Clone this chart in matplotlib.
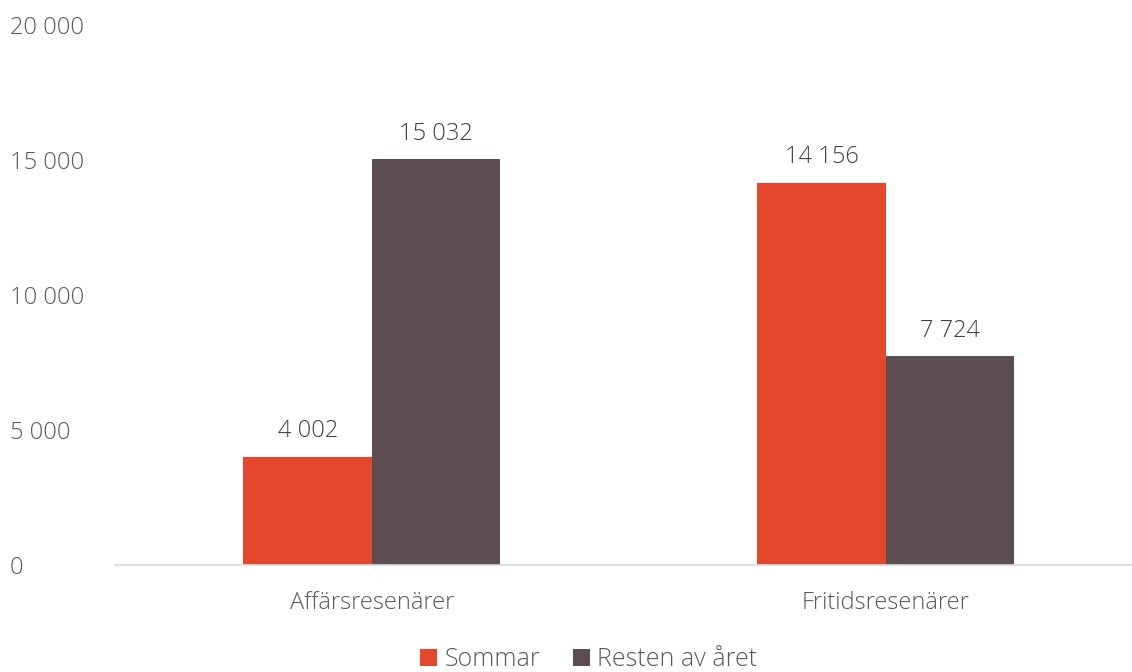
import matplotlib
matplotlib.use("Agg")
import matplotlib.pyplot as plt
import numpy as np

categories = ["Affärsresenärer", "Fritidsresenärer"]
series_names = ["Sommar", "Resten av året"]
sommar = [4002, 14156]
resten = [15032, 7724]
yticks = [0, 5000, 10000, 15000, 20000]

colors = ["#E5472C", "#5B4D50"]
text_col = "#595959"

plt.rcParams["font.family"] = ["Open Sans", "DejaVu Sans"]
plt.rcParams["font.weight"] = "light"


def fmt(v):
    return "{:,}".format(v).replace(",", " ")


fig = plt.figure(figsize=(11.32, 6.72), dpi=100)
ax = fig.add_axes([115 / 1132, 107 / 672, 1 - 115 / 1132, 540 / 672])

x = np.arange(len(categories))
w = 0.25
for i, (vals, name) in enumerate(zip([sommar, resten], series_names)):
    bars = ax.bar(x + (i - 0.5) * w, vals, width=w, color=colors[i], label=name)
    for b, v in zip(bars, vals):
        ax.text(b.get_x() + b.get_width() / 2, v + 500, fmt(v), ha="center",
                va="bottom", fontsize=17, color="#404040")

ax.set_xlim(-0.5, 1.479)
ax.set_ylim(0, 20000)
ax.set_yticks(yticks)
ax.set_yticklabels([fmt(t) for t in yticks], ha="left", fontsize=17, color=text_col)
ax.tick_params(axis="y", length=0, pad=75.6)
ax.set_xticks(x)
ax.set_xticklabels(categories, fontsize=17, color=text_col)
ax.tick_params(axis="x", length=0, pad=19)

for s in ["top", "right", "left"]:
    ax.spines[s].set_visible(False)
ax.spines["bottom"].set_color("#d9d9d9")
ax.spines["bottom"].set_linewidth(1.2)

leg = fig.legend(loc="center", bbox_to_anchor=(0.52, 12 / 672), ncol=2, frameon=False,
                 fontsize=18, handlelength=0.68, handleheight=0.68, handletextpad=0.3,
                 columnspacing=1.3)
for t in leg.get_texts():
    t.set_color(text_col)

fig.savefig("out.png", dpi=100)
